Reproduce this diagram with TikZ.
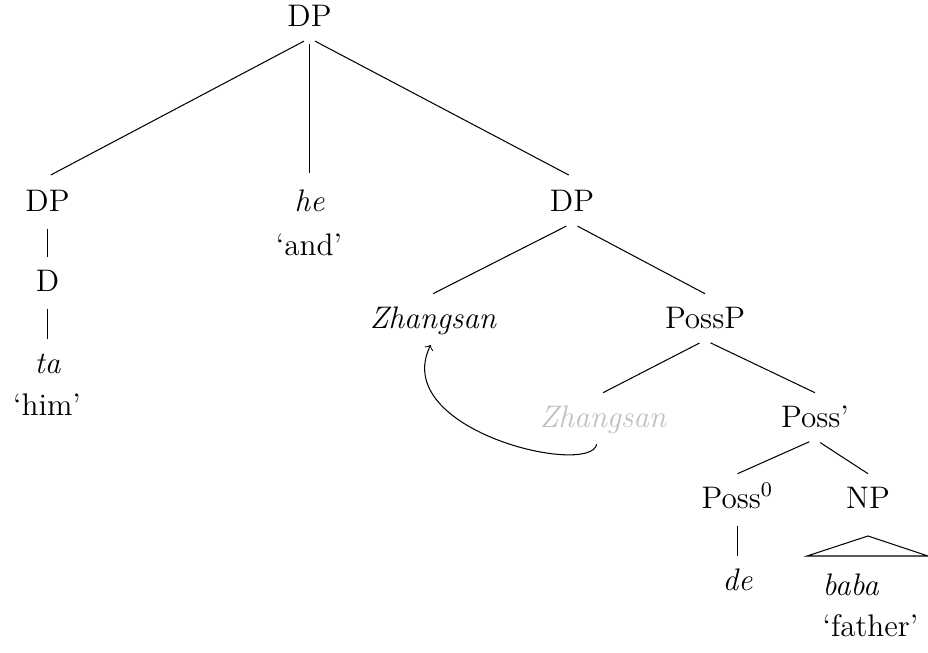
\documentclass[tikz,border=0pt,12pt]{standalone}
\usepackage{xcolor}
\usepackage{amsmath,amssymb}
\usepackage{tikz}

\begin{document}
\begin{tikzpicture}[
  x=0.385pt,y=-0.385pt,
  cat/.style={anchor=base,inner xsep=1pt,inner ysep=4.5pt,text height=8.5pt,text depth=0pt},
  word/.style={cat,font=\itshape},
  gloss/.style={anchor=base,inner sep=1pt},
  trace/.style={text=gray!50},
  branch/.style={shorten <=2.4pt},
  topbranch/.style={shorten <=2.4pt,shorten >=1.4pt},
  move/.style={->,shorten <=2pt,shorten >=2pt}
]
\useasboundingbox (0,0) rectangle (928,652);
\node[cat] (dp) at (309.5,26) {DP};
\node[cat] (dpa) at (47.5,211) {DP};
\node[word] (he) at (309.5,211) {he};
\node[gloss] (and) at (309,255) {`and'};
\node[cat] (dpb) at (572,211) {DP};
\node[cat] (d) at (47.5,291) {D};
\node[word] (ta) at (47.5,373) {ta};
\node[gloss] (him) at (47,415) {`him'};
\node[word] (zs) at (433,328) {Zhangsan};
\node[cat] (possp) at (705,328) {PossP};
\node[word,trace] (zt) at (603,427) {Zhangsan};
\node[cat] (possbar) at (815,427) {Poss'};
\node[cat] (poss0) at (737.5,508) {Poss$^0$};
\node[cat] (np) at (868,508) {NP};
\node[word] (de) at (737.5,590) {de};
\node[word,anchor=base west,inner xsep=0pt] (baba) at (822,595) {baba};
\node[gloss,anchor=base west,inner xsep=0pt] (father) at (822,636) {`father'};
\coordinate (roof) at (868,536);
% branches
\draw[topbranch] (dp.south) -- (dpa.north);
\draw[topbranch] (dp.south) -- (he.north);
\draw[topbranch] (dp.south) -- (dpb.north);
\draw[branch] (dpa.south) -- (d.north);
\draw[branch] (d.south) -- (ta.north);
\draw[branch] (dpb.south) -- (zs.north);
\draw[branch] (dpb.south) -- (possp.north);
\draw[branch] (possp.south) -- (zt.north);
\draw[branch] (possp.south) -- (possbar.north);
\draw[branch] (possbar.south) -- (poss0.north);
\draw[branch] (possbar.south) -- (np.north);
\draw[branch] (poss0.south) -- (de.north);
\draw (roof) -- ++(-61,20) -- ++(121,0) -- cycle;
% movement
\draw[move] ([xshift=-2pt]zt.south) .. controls +(-8,38) and +(-44,90) .. (zs.south);
\end{tikzpicture}
\end{document}
